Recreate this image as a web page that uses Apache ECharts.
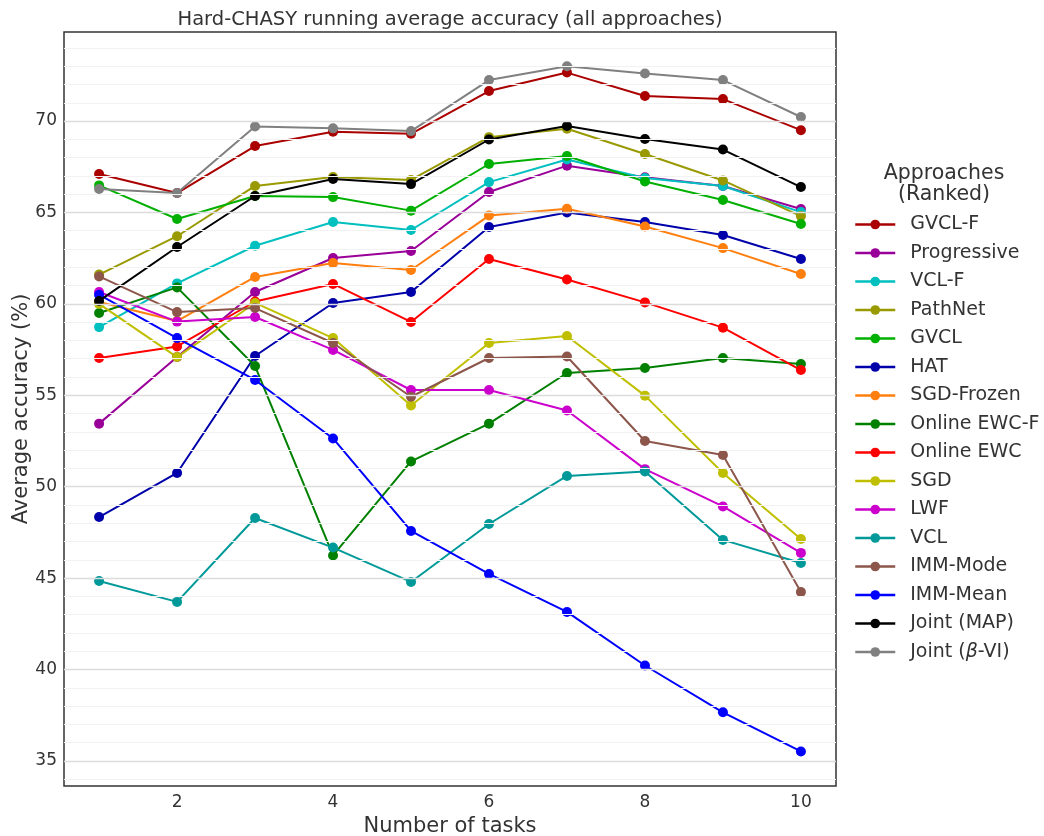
<!DOCTYPE html>
<html>
<head>
    <meta charset="utf-8">
    <title>Hard-CHASY running average accuracy</title>
    <script src="https://cdn.jsdelivr.net/npm/echarts@6/dist/echarts.min.js"></script>
</head>
<body style="margin:0;background:#fff;">
<div id="main" style="width:1044px;height:836px;"></div>
<script type="text/javascript">
    // number of tasks seen so far
    var tasks = [1, 2, 3, 4, 5, 6, 7, 8, 9, 10];
    var xTicks = [2, 4, 6, 8, 10];
    var yTicks = [35, 40, 45, 50, 55, 60, 65, 70];

    var names = ['GVCL-F', 'Progressive', 'VCL-F', 'PathNet', 'GVCL', 'HAT', 'SGD-Frozen',
        'Online EWC-F', 'Online EWC', 'SGD', 'LWF', 'VCL', 'IMM-Mode', 'IMM-Mean', 'Joint (MAP)', 'Joint (β-VI)'];
    var colors = ['#aa0000', '#990099', '#00bfbf', '#999900', '#00b000', '#0000aa', '#ff7f0e',
        '#008000', '#ff0000', '#bfbf00', '#cc00cc', '#009999', '#8c564b', '#0000ff', '#000000', '#808080'];

    var gvclF       = [67.1, 66.06, 68.63, 69.42, 69.3, 71.64, 72.65, 71.37, 71.2, 69.5];
    var progressive = [53.45, 57.09, 60.65, 62.51, 62.89, 66.12, 67.56, 66.92, 66.45, 65.19];
    var vclF        = [58.73, 61.12, 63.18, 64.48, 64.04, 66.66, 67.9, 66.88, 66.45, 65.02];
    var pathNet     = [61.6, 63.7, 66.45, 66.94, 66.78, 69.12, 69.58, 68.2, 66.75, 64.8];
    var gvcl        = [66.48, 64.64, 65.9, 65.84, 65.1, 67.65, 68.09, 66.69, 65.68, 64.37];
    var hat         = [48.34, 50.75, 57.15, 60.05, 60.65, 64.2, 65.0, 64.48, 63.77, 62.45];
    var sgdFrozen   = [60.1, 59.06, 61.47, 62.23, 61.85, 64.83, 65.2, 64.23, 63.05, 61.63];
    var onlineEwcF  = [59.5, 60.9, 56.6, 46.24, 51.38, 53.45, 56.22, 56.49, 57.04, 56.71];
    var onlineEwc   = [57.04, 57.67, 60.13, 61.09, 59.01, 62.45, 61.33, 60.08, 58.7, 56.38];
    var sgd         = [60.0, 57.09, 60.05, 58.13, 54.44, 57.86, 58.24, 54.98, 50.75, 47.14];
    var lwf         = [60.65, 59.03, 59.28, 57.48, 55.29, 55.29, 54.17, 50.96, 48.92, 46.38];
    var vcl         = [44.84, 43.7, 48.29, 46.67, 44.79, 47.96, 50.59, 50.83, 47.09, 45.83];
    var immMode     = [61.5, 59.55, 59.77, 57.86, 54.92, 57.04, 57.12, 52.5, 51.73, 44.24];
    var immMean     = [60.5, 58.13, 55.84, 52.64, 47.58, 45.23, 43.15, 40.22, 37.66, 35.52];
    var jointMap    = [60.16, 63.11, 65.9, 66.83, 66.55, 68.99, 69.73, 69.02, 68.44, 66.39];
    var jointBvi    = [66.28, 66.06, 69.7, 69.6, 69.45, 72.24, 73.0, 72.6, 72.24, 70.22];

    var allValues = [gvclF, progressive, vclF, pathNet, gvcl, hat, sgdFrozen, onlineEwcF,
        onlineEwc, sgd, lwf, vcl, immMode, immMean, jointMap, jointBvi];

    // horizontal grid lines: major every 5, minor every 1
    var gridLines = [];
    for (var v = 34; v <= 74; v++) {
        gridLines.push({
            yAxis: v,
            lineStyle: v % 5 === 0 ? {color: '#dcdcdc', width: 1.3, type: 'solid'}
                                   : {color: '#f2f2f2', width: 1, type: 'solid'}
        });
    }

    var series = [{
        type: 'line',
        data: [],
        silent: true,
        z: 0,
        markLine: {
            silent: true,
            symbol: 'none',
            label: {show: false},
            animation: false,
            data: gridLines
        }
    }];
    for (var i = 0; i < names.length; i++) {
        series.push({
            name: names[i],
            type: 'line',
            data: tasks.map(function (t, k) { return [t, allValues[i][k]]; }),
            symbol: 'circle',
            symbolSize: 10,
            lineStyle: {width: 2, color: colors[i]},
            itemStyle: {color: colors[i]},
            animation: false,
            z: 2 + (i >= 14 ? 2 : 0)
        });
    }

    var myChart = echarts.init(document.getElementById('main'));
    var font = 'DejaVu Sans';
    var option = {
        backgroundColor: '#fff',
        textStyle: {fontFamily: font},
        title: [{
            text: 'Hard-CHASY running average accuracy (all approaches)',
            left: 445, top: 5, textAlign: 'center',
            textStyle: {fontSize: 19.5, fontWeight: 'normal', color: '#333', fontFamily: font}
        }, {
            text: 'Approaches\n(Ranked)',
            left: 939, top: 158, textAlign: 'center',
            textStyle: {fontSize: 20.5, fontWeight: 'normal', color: '#333', fontFamily: font, lineHeight: 21}
        }],
        legend: {
            orient: 'vertical',
            left: 849, top: 210,
            itemWidth: 40, itemHeight: 12, itemGap: 9.5,
            data: names,
            textStyle: {fontSize: 19, color: '#333', fontFamily: font, padding: [0, 0, 0, 10],
                rich: {i: {fontStyle: 'italic', fontSize: 19, color: '#333', fontFamily: font}}},
            formatter: function (n) {
                return n.replace('β', '{i|β}');
            },
            itemStyle: {borderWidth: 0},
            lineStyle: {width: 2.5}
        },
        grid: {left: 64, top: 32, width: 772, height: 754, show: true, borderColor: '#333', borderWidth: 1.5,
            outerBoundsMode: 'none', containLabel: false},
        xAxis: {
            type: 'value', min: 0.55, max: 10.45,
            name: 'Number of tasks', nameLocation: 'middle', nameGap: 24,
            nameTextStyle: {fontSize: 21, color: '#333', fontFamily: font},
            axisLine: {show: false}, axisTick: {show: false},
            splitLine: {show: false},
            axisLabel: {customValues: xTicks, fontSize: 17, color: '#333', margin: 8, fontFamily: font}
        },
        yAxis: {
            type: 'value', min: 33.63, max: 74.87,
            name: 'Average accuracy (%)', nameLocation: 'middle', nameGap: 32,
            nameMoveOverlap: false,
            nameTextStyle: {fontSize: 21, color: '#333', fontFamily: font},
            axisLine: {show: false}, axisTick: {show: false},
            splitLine: {show: false},
            axisLabel: {customValues: yTicks, fontSize: 17, color: '#333', margin: 7, fontFamily: font}
        },
        series: series
    };
    myChart.setOption(option);
</script>
</body>
</html>
